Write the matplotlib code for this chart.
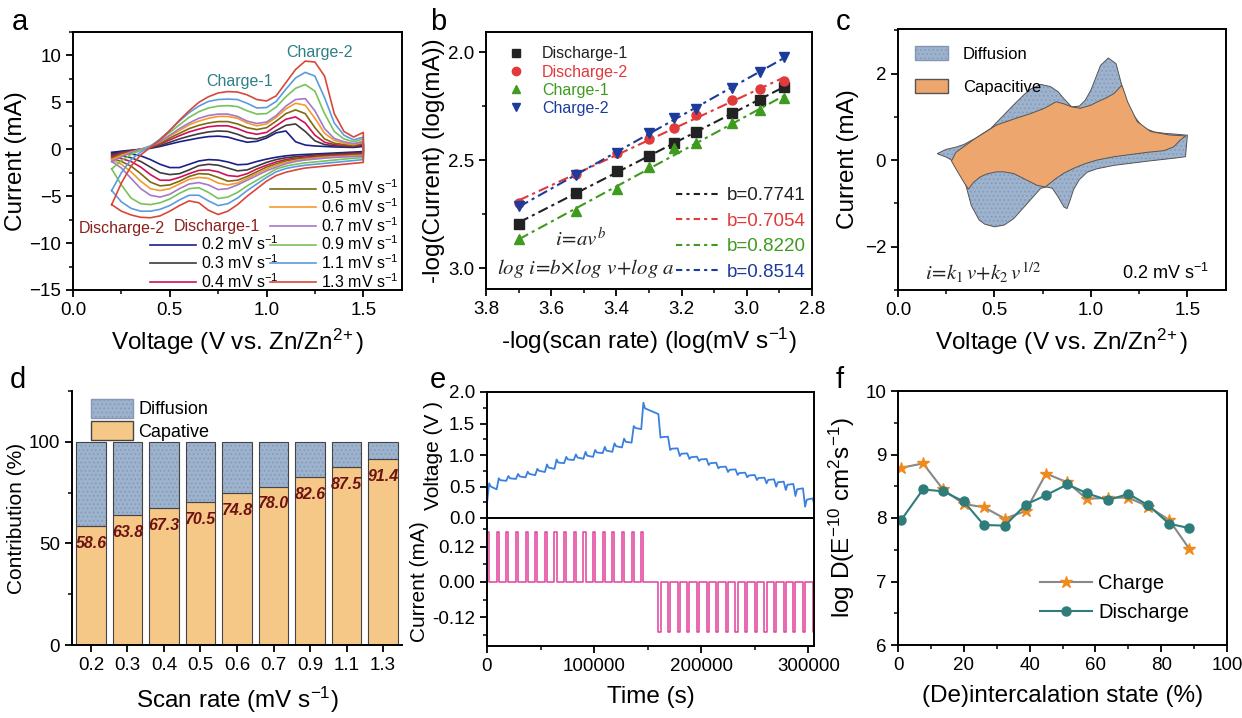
import numpy as np
import matplotlib
matplotlib.use('Agg')
import matplotlib.pyplot as plt
from matplotlib.lines import Line2D
from matplotlib.patches import Patch
from matplotlib.ticker import MultipleLocator

plt.rcParams['font.family'] = ['Liberation Sans', 'DejaVu Sans']
plt.rcParams['mathtext.fontset'] = 'custom'
plt.rcParams['mathtext.rm'] = 'Liberation Sans'
plt.rcParams['mathtext.it'] = 'Liberation Sans:italic'
plt.rcParams['mathtext.bf'] = 'Liberation Sans:bold'
plt.rcParams['axes.linewidth'] = 1.4
plt.rcParams['hatch.linewidth'] = 0.6

# ---------------- data ----------------
# (a) CV curves
cv_v = [0.20, 0.25, 0.30, 0.35, 0.40, 0.45, 0.50, 0.55, 0.60, 0.65, 0.70, 0.75, 0.80, 0.85,
        0.90, 0.95, 1.00, 1.05, 1.10, 1.15, 1.20, 1.25, 1.30, 1.35, 1.40, 1.45, 1.50]
cv_labels = ['0.2', '0.3', '0.4', '0.5', '0.6', '0.7', '0.9', '1.1', '1.3']
cv_up = [
    [-0.35, -0.2, -0.1, 0.0, 0.1, 0.3, 0.55, 0.8, 1.0, 1.2, 1.35, 1.4, 1.3, 1.0, 0.75, 0.85, 1.2, 1.75, 1.95, 0.8, 0.45, 0.35, 0.3, 0.25, 0.22, 0.2, 0.3],
    [-0.55, -0.3, -0.15, 0.0, 0.15, 0.4, 0.75, 1.1, 1.4, 1.65, 1.85, 1.95, 1.9, 1.6, 1.2, 1.1, 1.4, 2.0, 2.55, 2.7, 1.9, 0.9, 0.5, 0.38, 0.3, 0.28, 0.45],
    [-0.75, -0.4, -0.2, 0.0, 0.2, 0.55, 1.0, 1.45, 1.85, 2.15, 2.4, 2.5, 2.5, 2.2, 1.8, 1.6, 1.8, 2.5, 3.2, 3.45, 2.8, 1.5, 0.75, 0.5, 0.4, 0.35, 0.55],
    [-0.95, -0.5, -0.25, 0.0, 0.25, 0.65, 1.2, 1.7, 2.2, 2.55, 2.8, 2.95, 2.95, 2.7, 2.3, 2.1, 2.3, 3.0, 3.8, 4.2, 3.8, 2.3, 1.1, 0.65, 0.5, 0.4, 0.65],
    [-1.1, -0.65, -0.3, 0.0, 0.3, 0.8, 1.4, 2.0, 2.6, 3.0, 3.3, 3.5, 3.5, 3.3, 2.8, 2.5, 2.7, 3.4, 4.3, 4.9, 4.7, 3.3, 1.7, 0.95, 0.65, 0.5, 0.75],
    [-1.3, -0.8, -0.35, 0.0, 0.35, 0.85, 1.5, 2.2, 2.8, 3.3, 3.6, 3.75, 3.75, 3.5, 3.0, 2.75, 2.9, 3.6, 4.6, 5.3, 5.4, 4.1, 2.2, 1.15, 0.8, 0.6, 0.85],
    [-2.1, -1.2, -0.55, -0.1, 0.35, 1.0, 1.8, 2.6, 3.4, 4.0, 4.4, 4.6, 4.65, 4.55, 4.1, 3.75, 3.8, 4.5, 5.6, 6.5, 6.9, 6.2, 3.8, 1.9, 1.1, 0.8, 1.1],
    [-4.4, -2.5, -1.1, -0.3, 0.3, 1.1, 2.0, 3.0, 3.9, 4.6, 5.1, 5.3, 5.35, 5.3, 4.9, 4.4, 4.45, 5.1, 6.4, 7.6, 8.2, 7.8, 5.5, 2.8, 1.5, 1.0, 1.3],
    [-5.9, -3.6, -1.8, -0.6, 0.2, 1.0, 2.0, 3.1, 4.1, 5.0, 5.6, 6.0, 6.15, 6.1, 5.8, 5.3, 5.15, 5.7, 7.1, 8.5, 9.4, 9.3, 7.8, 3.8, 1.9, 1.3, 1.8],
]
cv_down = [
    [-0.35, -0.4, -0.5, -0.7, -1.1, -1.6, -1.95, -1.95, -1.6, -1.25, -1.1, -1.15, -1.35, -1.65, -1.6, -1.3, -1.05, -0.85, -0.7, -0.6, -0.55, -0.5, -0.45, -0.4, -0.35, -0.3, -0.25],
    [-0.55, -0.7, -0.9, -1.3, -1.9, -2.5, -2.7, -2.6, -2.2, -1.75, -1.6, -1.7, -2.0, -2.3, -2.2, -1.8, -1.4, -1.1, -0.9, -0.8, -0.7, -0.62, -0.55, -0.5, -0.45, -0.4, -0.35],
    [-0.75, -1.0, -1.3, -1.9, -2.7, -3.3, -3.3, -3.0, -2.6, -2.25, -2.2, -2.4, -2.8, -2.9, -2.6, -2.1, -1.7, -1.35, -1.1, -0.95, -0.85, -0.75, -0.68, -0.6, -0.55, -0.5, -0.45],
    [-0.95, -1.3, -1.8, -2.6, -3.5, -3.9, -3.8, -3.4, -2.9, -2.6, -2.65, -3.0, -3.4, -3.3, -2.9, -2.4, -1.9, -1.55, -1.25, -1.05, -0.95, -0.85, -0.75, -0.7, -0.65, -0.6, -0.55],
    [-1.1, -1.6, -2.4, -3.4, -4.2, -4.4, -4.2, -3.7, -3.2, -3.0, -3.1, -3.6, -3.8, -3.6, -3.1, -2.6, -2.1, -1.7, -1.4, -1.2, -1.05, -0.95, -0.85, -0.8, -0.75, -0.7, -0.65],
    [-1.3, -2.0, -3.1, -4.2, -4.9, -5.1, -4.8, -4.2, -3.7, -3.55, -3.8, -4.3, -4.2, -3.8, -3.3, -2.8, -2.3, -1.9, -1.55, -1.3, -1.15, -1.05, -0.95, -0.88, -0.82, -0.78, -0.72],
    [-2.1, -3.8, -5.2, -5.8, -5.9, -5.7, -5.3, -4.7, -4.2, -4.1, -4.6, -5.25, -5.1, -4.6, -3.9, -3.3, -2.7, -2.1, -1.8, -1.6, -1.45, -1.35, -1.25, -1.15, -1.05, -0.95, -0.9],
    [-4.4, -5.6, -6.3, -6.6, -6.6, -6.4, -6.0, -5.4, -4.9, -4.9, -5.5, -6.0, -5.8, -5.2, -4.4, -3.7, -3.0, -2.4, -2.05, -1.85, -1.7, -1.6, -1.5, -1.4, -1.3, -1.2, -1.1],
    [-5.9, -6.6, -7.0, -7.25, -7.3, -7.1, -6.6, -6.0, -5.5, -5.7, -6.5, -6.95, -6.6, -5.9, -5.0, -4.2, -3.4, -2.8, -2.45, -2.2, -2.0, -1.9, -1.8, -1.7, -1.6, -1.5, -1.4],
]
cv_colors = ['#1b1f8a', '#3c3c3c', '#d0105a', '#7b6a12', '#f39a2b', '#a678c8', '#78c25a', '#5b9be0', '#d9473a']

# (b) log-log plot
b_x = [3.699, 3.523, 3.398, 3.301, 3.222, 3.155, 3.046, 2.959, 2.886]
b_dis1 = [2.794, 2.652, 2.550, 2.480, 2.423, 2.368, 2.283, 2.221, 2.163]
b_dis2 = [2.698, 2.565, 2.469, 2.404, 2.350, 2.291, 2.221, 2.172, 2.136]
b_chg1 = [2.867, 2.735, 2.632, 2.531, 2.446, 2.423, 2.330, 2.268, 2.214]
b_chg2 = [2.714, 2.567, 2.469, 2.376, 2.303, 2.265, 2.164, 2.090, 2.025]
b_names = ['Discharge-1', 'Discharge-2', 'Charge-1', 'Charge-2']
b_slopes = ['0.7741', '0.7054', '0.8220', '0.8514']

# (c) separation at 0.2 mV/s
tot_up_v = [0.203, 0.25, 0.30, 0.34, 0.40, 0.48, 0.55, 0.60, 0.65, 0.69, 0.74, 0.79, 0.83, 0.86, 0.90,
            0.94, 0.97, 1.00, 1.05, 1.09, 1.13, 1.155, 1.18, 1.21, 1.27, 1.33, 1.38, 1.44, 1.49, 1.50]
tot_up_i = [0.15, 0.25, 0.30, 0.36, 0.50, 0.73, 1.05, 1.28, 1.50, 1.65, 1.75, 1.70, 1.58, 1.42, 1.23,
            1.25, 1.38, 1.62, 2.19, 2.36, 2.23, 1.81, 1.40, 1.10, 0.75, 0.65, 0.62, 0.60, 0.58, 0.58]
tot_dn_v = [1.50, 1.49, 1.44, 1.38, 1.30, 1.21, 1.12, 1.03, 0.98, 0.94, 0.91, 0.89, 0.876, 0.86, 0.83, 0.80,
            0.77, 0.74, 0.70, 0.65, 0.60, 0.55, 0.50, 0.45, 0.42, 0.38, 0.35, 0.32, 0.30, 0.27, 0.25, 0.203]
tot_dn_i = [0.58, 0.08, 0.05, 0.02, -0.02, -0.07, -0.12, -0.20, -0.28, -0.45, -0.68, -0.95, -1.12, -1.08, -0.85, -0.65,
            -0.62, -0.65, -0.85, -1.10, -1.35, -1.50, -1.54, -1.48, -1.38, -1.05, -0.55, -0.20, -0.08, 0.02, 0.07, 0.15]
cap_up_v = [0.277, 0.30, 0.34, 0.40, 0.51, 0.60, 0.69, 0.76, 0.82, 0.86, 0.90, 0.945, 1.00, 1.03, 1.08, 1.12,
            1.16, 1.175, 1.19, 1.24, 1.31, 1.41, 1.49]
cap_up_i = [-0.02, 0.18, 0.31, 0.50, 0.81, 0.95, 1.08, 1.20, 1.35, 1.30, 1.23, 1.20, 1.27, 1.34, 1.44, 1.54,
            1.73, 1.55, 1.35, 0.89, 0.66, 0.58, 0.56]
cap_dn_v = [1.49, 1.46, 1.43, 1.38, 1.29, 1.205, 1.12, 1.03, 0.97, 0.91, 0.86, 0.82, 0.763, 0.72, 0.685, 0.64,
            0.60, 0.55, 0.51, 0.46, 0.425, 0.39, 0.365, 0.34, 0.32, 0.30, 0.277]
cap_dn_i = [0.56, 0.45, 0.31, 0.22, 0.18, 0.13, 0.08, 0.0, -0.08, -0.19, -0.30, -0.42, -0.62, -0.58, -0.50, -0.40,
            -0.31, -0.27, -0.27, -0.32, -0.39, -0.52, -0.67, -0.50, -0.35, -0.20, -0.02]

# (d) contribution
d_rates = ['0.2', '0.3', '0.4', '0.5', '0.6', '0.7', '0.9', '1.1', '1.3']
d_cap = [58.6, 63.8, 67.3, 70.5, 74.8, 78.0, 82.6, 87.5, 91.4]

# (e) GITT
PULSE_S = 2000
KNEE_S = 1500
pulse_ma = 0.17
chg_start = [0, 9000, 18000, 27000, 36000, 45000, 54000, 63000, 72000, 81000, 90000, 99000,
             108000, 117000, 126000, 135000, 144000]
chg_rest = [0.23, 0.455, 0.59, 0.62, 0.645, 0.68, 0.73, 0.78, 0.87, 0.92, 0.94, 0.97, 1.03, 1.05, 1.12, 1.196, 1.41]
chg_peak = [0.55, 0.63, 0.667, 0.70, 0.735, 0.78, 0.85, 0.93, 0.97, 1.01, 1.05, 1.08, 1.13, 1.185, 1.26, 1.46, 1.83]
chg_knee = [0.50, 0.60, 0.63, 0.66, 0.70, 0.75, 0.80, 0.88, 0.93, 0.96, 0.99, 1.04, 1.07, 1.14, 1.21, 1.43, 1.74]
dis_start = [160000, 169000, 178000, 187000, 196000, 205000, 214000, 223000, 232000, 241000, 250000,
             259000, 268000, 277000, 286000, 295000, 304000]
dis_rest = [1.65, 1.29, 1.106, 1.026, 0.974, 0.937, 0.878, 0.815, 0.772, 0.720, 0.683, 0.640, 0.614, 0.577,
            0.540, 0.471, 0.312, 0.26]
dis_min = [1.275, 1.08, 0.984, 0.937, 0.905, 0.841, 0.788, 0.730, 0.683, 0.646, 0.603, 0.550, 0.497, 0.444,
           0.349, 0.180, 0.20]
dis_knee = [1.285, 1.10, 1.02, 0.965, 0.93, 0.87, 0.81, 0.765, 0.713, 0.675, 0.635, 0.605, 0.567, 0.528,
            0.455, 0.29, 0.25]
t_end = 306000

# (f) diffusion coefficient
f_x = [1.0, 7.6, 13.7, 20.0, 26.1, 32.5, 38.8, 45.0, 51.5, 57.4, 63.8, 70.0, 76.1, 82.4, 88.6]
f_charge = [8.79, 8.86, 8.45, 8.22, 8.17, 7.99, 8.11, 8.70, 8.56, 8.30, 8.32, 8.32, 8.18, 7.97, 7.51]
f_discharge = [7.97, 8.45, 8.42, 8.26, 7.89, 7.88, 8.21, 8.36, 8.53, 8.39, 8.28, 8.38, 8.20, 7.91, 7.84]

# ---------------- figure ----------------
W, H = 1242, 718
fig = plt.figure(figsize=(W / 100, H / 100), dpi=100)
fig.patch.set_facecolor('white')

TICK = 13.5
LAB = 17.5
ZN = r'Voltage (V vs. Zn/Zn$^{2\!+}$)'


def ax_px(l, t, r, b):
    return fig.add_axes([l / W, 1 - b / H, (r - l) / W, (b - t) / H])


def style(ax):
    ax.tick_params(which='both', direction='out', labelsize=TICK, top=False, right=False)
    ax.tick_params(which='major', length=5, width=1.3)
    ax.tick_params(which='minor', length=3, width=1.1)


def plabel(x, y, s):
    fig.text(x / W, 1 - y / H, s, fontsize=21, va='top', ha='left')


blue = '#9db2cd'
hatch_col = '#8498b5'
orange = '#eda66e'
edge = '#555555'

# ---- (a)
ax = ax_px(73, 32, 402, 290)
style(ax)
handles = []
for lab, up, dn, col in zip(cv_labels, cv_up, cv_down, cv_colors):
    vv = cv_v + cv_v[::-1] + [cv_v[0]]
    ii = up + dn[::-1] + [up[0]]
    ln, = ax.plot(vv, ii, color=col, lw=1.2, label=lab + r' mV s$^{-1}$')
    handles.append(ln)
ax.set_xlim(0, 1.7)
ax.set_ylim(-15, 12.5)
ax.xaxis.set_major_locator(MultipleLocator(0.5))
ax.xaxis.set_minor_locator(MultipleLocator(0.25))
ax.yaxis.set_major_locator(MultipleLocator(5))
ax.yaxis.set_minor_locator(MultipleLocator(2.5))
ax.set_xlabel(ZN, fontsize=LAB, labelpad=6)
ax.set_ylabel('Current (mA)', fontsize=LAB, labelpad=2)
legkw = dict(frameon=False, fontsize=11.5, handlelength=2.9, handletextpad=0.3,
             labelspacing=0.0, borderpad=0.1, borderaxespad=0.1)
leg1 = ax.legend(handles=handles[:3], loc='lower right', bbox_to_anchor=(0.635, -0.015), **legkw)
ax.add_artist(leg1)
ax.legend(handles=handles[3:], loc='lower right', bbox_to_anchor=(1.0, -0.015), **legkw)
ax.text(1.276, 10.3, 'Charge-2', color='#2f7f86', fontsize=11.5, ha='center', va='center')
ax.text(0.862, 7.2, 'Charge-1', color='#2f7f86', fontsize=11.5, ha='center', va='center')
ax.text(0.252, -8.4, 'Discharge-2', color='#8b2020', fontsize=11.5, ha='center', va='center')
ax.text(0.743, -8.2, 'Discharge-1', color='#8b2020', fontsize=11.5, ha='center', va='center')
plabel(12, 8, 'a')

# ---- (b)
ax = ax_px(486, 32, 812, 289)
style(ax)
b_cols = ['#222222', '#e03a3a', '#3e9b1e', '#1c3c9c']
b_marks = ['s', 'o', '^', 'v']
mh, lh = [], []
for ys, col, mk, nm, sl in zip([b_dis1, b_dis2, b_chg1, b_chg2], b_cols, b_marks, b_names, b_slopes):
    p = np.polyfit(b_x, ys, 1)
    xs = np.array([b_x[0], b_x[-1]])
    ax.plot(xs, np.polyval(p, xs), color=col, lw=1.5, ls=(0, (5, 2, 1.5, 2)))
    ax.plot(b_x, ys, ls='none', marker=mk, color=col, ms=6.5)
    mh.append(Line2D([], [], ls='none', marker=mk, color=col, ms=6, label=nm))
    lh.append(Line2D([], [], ls=(0, (3, 2, 1.5, 2)), color=col, lw=1.5, label='b=' + sl))
ax.set_xlim(3.8, 2.8)
ax.set_ylim(3.097, 1.907)
ax.xaxis.set_minor_locator(MultipleLocator(0.1))
ax.yaxis.set_major_locator(MultipleLocator(0.5))
ax.yaxis.set_minor_locator(MultipleLocator(0.25))
ax.set_xticks([3.8, 3.6, 3.4, 3.2, 3.0, 2.8])
ax.set_xticklabels(['3.8', '3.6', '3.4', '3.2', '3.0', '2.8'])
ax.set_xlabel(r'-log(scan rate) (log(mV s$^{-1}$)', fontsize=LAB, labelpad=6)
ax.set_ylabel('-log(Current) (log(mA))', fontsize=LAB, labelpad=2)
lg = ax.legend(handles=mh, loc='upper left', bbox_to_anchor=(0.0, 1.0), frameon=False, fontsize=11.5,
               handletextpad=0.6, labelspacing=0.2, borderpad=0.4, labelcolor=b_cols)
ax.add_artist(lg)
ax.legend(handles=lh, loc='lower right', bbox_to_anchor=(1.02, -0.02), frameon=False, fontsize=13.5,
          handlelength=2.4, handletextpad=0.3, labelspacing=0.45, borderpad=0.2, labelcolor=b_cols)
ax.text(3.51, 2.86, r'$i\!=\!av^b$', math_fontfamily='stix', fontsize=15, ha='center', va='center', color='#222')
ax.text(3.766, 3.0, r'$log\ i\!=\!b\!\times\!log\ v\!+\!log\ a$', math_fontfamily='stix', fontsize=15,
        ha='left', va='center', color='#222')
plabel(430, 8, 'b')

# ---- (c)
ax = ax_px(898, 29, 1226, 290)
style(ax)
tv = tot_up_v + tot_dn_v
ti = tot_up_i + tot_dn_i
ax.fill(tv, ti, facecolor=blue, edgecolor=hatch_col, lw=0, hatch='....')
ax.fill(tv, ti, facecolor='none', edgecolor=edge, lw=0.7)
ax.fill(cap_up_v + cap_dn_v, cap_up_i + cap_dn_i, facecolor=orange, edgecolor=edge, lw=0.7)
ax.set_xlim(0, 1.7)
ax.set_ylim(-3.0, 3.03)
ax.xaxis.set_major_locator(MultipleLocator(0.5))
ax.xaxis.set_minor_locator(MultipleLocator(0.25))
ax.yaxis.set_major_locator(MultipleLocator(2))
ax.yaxis.set_minor_locator(MultipleLocator(1))
ax.set_xlabel(ZN, fontsize=LAB, labelpad=6)
ax.set_ylabel('Current (mA)', fontsize=LAB, labelpad=4)
ax.legend(handles=[Patch(facecolor=blue, edgecolor=hatch_col, hatch='....', label='Diffusion'),
                   Patch(facecolor=orange, edgecolor=edge, label='Capacitive')],
          loc='upper left', frameon=False, fontsize=12, handlelength=2.0, handleheight=0.95,
          labelspacing=1.05, handletextpad=0.9, borderpad=0.5)
ax.text(0.14, -2.6, r'$i\!=\!k_1\,v\!+\!k_2\,v^{1/2}$', math_fontfamily='stix', fontsize=15,
        ha='left', va='center', color='#222')
ax.text(1.61, -2.6, r'0.2 mV s$^{-1}$', fontsize=13, ha='right', va='center')
plabel(836, 8, 'c')

# ---- (d)
ax = ax_px(72, 391, 402, 645)
style(ax)
xpos = np.arange(len(d_rates))
d_diff = [100 - c for c in d_cap]
ax.bar(xpos, d_cap, width=0.8, color='#f6c888', edgecolor='#444444', lw=0.8)
ax.bar(xpos, d_diff, bottom=d_cap, width=0.8, color=blue, edgecolor=hatch_col, lw=0, hatch='....')
ax.bar(xpos, d_diff, bottom=d_cap, width=0.8, color='none', edgecolor='#444444', lw=0.8)
for xp, c in zip(xpos, d_cap):
    ax.text(xp, c - 8.5, f'{c:.1f}', ha='center', va='center', fontsize=11.5, fontweight='bold',
            fontstyle='italic', color='#6e1111')
ax.set_xlim(-0.52, 8.52)
ax.set_ylim(0, 125)
ax.set_xticks(xpos)
ax.set_xticklabels(d_rates)
ax.yaxis.set_major_locator(MultipleLocator(50))
ax.yaxis.set_minor_locator(MultipleLocator(25))
ax.spines['top'].set_visible(False)
ax.spines['right'].set_visible(False)
ax.set_xlabel(r'Scan rate (mV s$^{-1}$)', fontsize=LAB, labelpad=8)
ax.set_ylabel('Contribution (%)', fontsize=15, labelpad=2)
ax.legend(handles=[Patch(facecolor=blue, edgecolor=hatch_col, hatch='....', label='Diffusion'),
                   Patch(facecolor='#f6c888', edgecolor='#444444', label='Capative')],
          loc='upper left', bbox_to_anchor=(0.02, 1.02), frameon=False, fontsize=13, handlelength=2.3,
          handleheight=1.25, labelspacing=0.15, handletextpad=0.3, borderpad=0.2)
plabel(10, 366, 'd')

# ---- (e)
t_v, v_v = [], []
for ts, r0, pk, kn in zip(chg_start, chg_rest, chg_peak, chg_knee):
    t_v += [ts, ts + PULSE_S, ts + PULSE_S + KNEE_S]
    v_v += [r0, pk, kn]
for k, ts in enumerate(dis_start):
    t_v += [ts, ts + PULSE_S, ts + PULSE_S + KNEE_S]
    v_v += [dis_rest[k], dis_min[k], dis_knee[k]]
t_v.append(t_end)
v_v.append(dis_rest[-1])
t_i, c_i = [0], [0.0]
for ts in chg_start:
    t_i += [ts, ts, ts + PULSE_S, ts + PULSE_S]
    c_i += [0.0, pulse_ma, pulse_ma, 0.0]
for ts in dis_start:
    t_i += [ts, ts, ts + PULSE_S, ts + PULSE_S]
    c_i += [0.0, -pulse_ma, -pulse_ma, 0.0]
t_i.append(t_end)
c_i.append(0.0)

axv = ax_px(487, 392, 814, 518)
axc = ax_px(487, 518, 814, 646)
for a_ in (axv, axc):
    style(a_)
axv.plot(t_v, v_v, color='#3a80e0', lw=1.3)
axv.set_xlim(0, 305300)
axv.set_ylim(0, 2.0)
axv.yaxis.set_major_locator(MultipleLocator(0.5))
axv.yaxis.set_minor_locator(MultipleLocator(0.25))
axv.tick_params(axis='x', which='both', bottom=False, labelbottom=False)
axv.set_ylabel('Voltage (V )', fontsize=15, labelpad=4)
axc.plot(t_i, c_i, color='#e0409a', lw=1.1)
axc.set_xlim(0, 305300)
axc.set_ylim(-0.219, 0.219)
axc.set_yticks([-0.12, 0.0, 0.12])
axc.set_yticklabels(['-0.12', '0.00', '0.12'])
axc.yaxis.set_minor_locator(MultipleLocator(0.06))
axc.xaxis.set_minor_locator(MultipleLocator(50000))
axc.set_xticks([0, 100000, 200000, 300000])
axc.set_xticklabels(['0', '100000', '200000', '300000'])
axc.set_xlabel('Time (s)', fontsize=LAB, labelpad=8)
axc.set_ylabel('Current (mA)', fontsize=15, labelpad=2)
plabel(430, 366, 'e')

# ---- (f)
ax = ax_px(898, 391, 1227, 645)
style(ax)
ax.plot(f_x, f_charge, color='#888888', lw=1.5, marker='*', ms=9, mfc='#f08a1c', mec='#f08a1c', label='Charge')
ax.plot(f_x, f_discharge, color='#2e7d7a', lw=1.5, marker='o', ms=6.5, mfc='#2e7d7a', mec='#2e7d7a',
        label='Discharge')
ax.set_xlim(0, 100)
ax.set_ylim(6, 10)
ax.xaxis.set_major_locator(MultipleLocator(20))
ax.xaxis.set_minor_locator(MultipleLocator(10))
ax.yaxis.set_major_locator(MultipleLocator(1))
ax.yaxis.set_minor_locator(MultipleLocator(0.5))
ax.set_xlabel('(De)intercalation state (%)', fontsize=LAB, labelpad=8)
ax.set_ylabel(r'log D(E$^{-10}$ cm$^{2}$s$^{-1}$)', fontsize=LAB, labelpad=6)
ax.legend(loc='lower right', bbox_to_anchor=(0.94, 0.02), frameon=False, fontsize=14.5, handlelength=2.6,
          handletextpad=0.3, labelspacing=0.5)
plabel(836, 366, 'f')

fig.savefig('out.png', dpi=100, facecolor='white')
